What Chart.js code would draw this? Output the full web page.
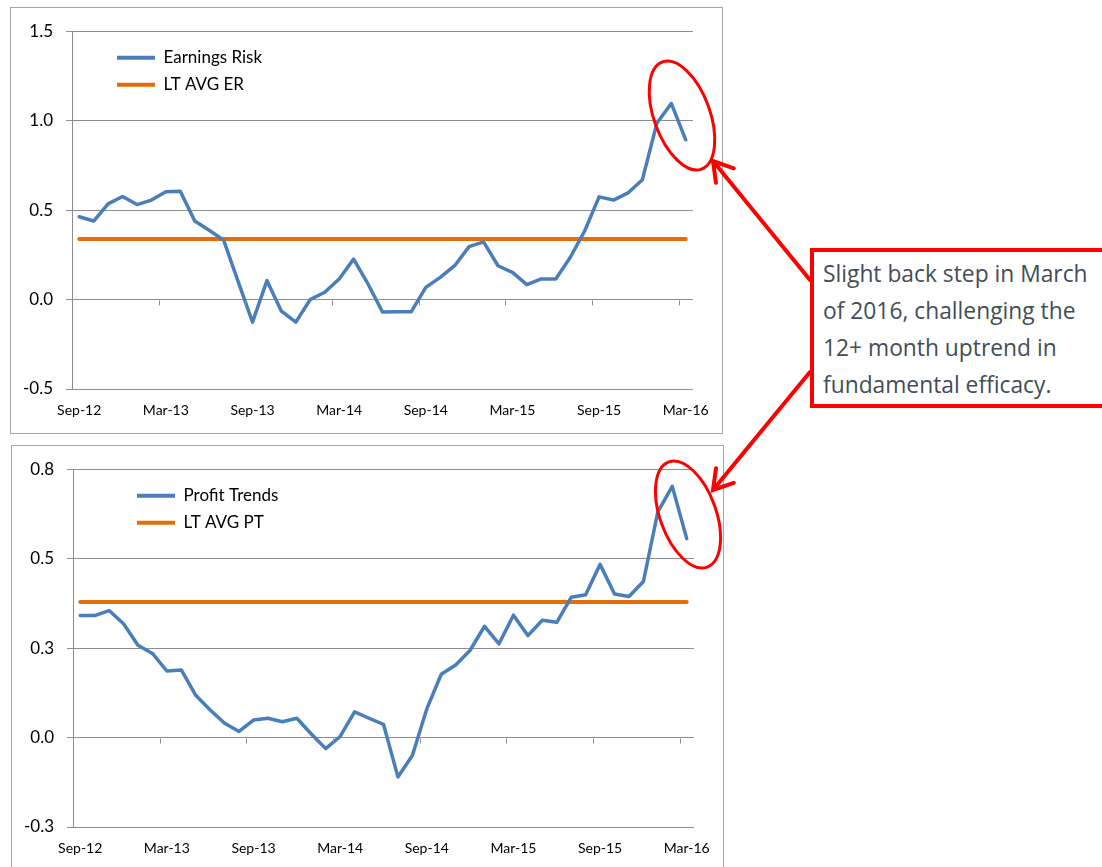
<!DOCTYPE html>
<html>
<head>
<meta charset="utf-8">
<script src="https://cdn.jsdelivr.net/npm/chart.js@4"></script>
<style>
  html, body { margin: 0; padding: 0; background: #fff; overflow: hidden; }
  body { width: 1102px; height: 867px; position: relative; }
  .frame { position: absolute; box-sizing: border-box; border: 1px solid #a6a6a6; background: #fff; }
  .frame canvas { position: absolute; left: 0; top: 0; }
  #frame-er { left: 10px; top: 7px; width: 713px; height: 427px; }
  #frame-pt { left: 11px; top: 445px; width: 713px; height: 427px; }
  #note {
    position: absolute; left: 810px; top: 248px; width: 320px; height: 160px;
    box-sizing: border-box; border: 4px solid #ff0000; background: #fff;
    padding: 3px 0 0 9px;
    font-family: "Open Sans", sans-serif; font-size: 22.8px; line-height: 37px;
    color: #434d57; white-space: nowrap;
  }
  #marks { position: absolute; left: 0; top: 0; pointer-events: none; }
</style>
</head>
<body>
<div class="frame" id="frame-er"><canvas id="chart-er" width="711" height="425"></canvas></div>
<div class="frame" id="frame-pt"><canvas id="chart-pt" width="711" height="425"></canvas></div>
<div id="note">Slight back step in March<br>of 2016, challenging the<br>12+ month uptrend in<br>fundamental efficacy.</div>
<svg id="marks" width="1102" height="867"></svg>
<script>
const months = [
  'Sep-12', 'Oct-12', 'Nov-12', 'Dec-12', 'Jan-13', 'Feb-13', 'Mar-13', 'Apr-13', 'May-13', 'Jun-13', 'Jul-13',
  'Aug-13', 'Sep-13', 'Oct-13', 'Nov-13', 'Dec-13', 'Jan-14', 'Feb-14', 'Mar-14', 'Apr-14', 'May-14', 'Jun-14',
  'Jul-14', 'Aug-14', 'Sep-14', 'Oct-14', 'Nov-14', 'Dec-14', 'Jan-15', 'Feb-15', 'Mar-15', 'Apr-15', 'May-15',
  'Jun-15', 'Jul-15', 'Aug-15', 'Sep-15', 'Oct-15', 'Nov-15', 'Dec-15', 'Jan-16', 'Feb-16', 'Mar-16',
];

const earningsRisk = [
  0.463, 0.439, 0.535, 0.576, 0.531, 0.556, 0.602, 0.606, 0.439, 0.387, 0.332,
  0.102, -0.126, 0.106, -0.065, -0.126, 0.000, 0.041, 0.115, 0.226, 0.087, -0.070,
  -0.068, -0.068, 0.068, 0.124, 0.189, 0.296, 0.322, 0.189, 0.152, 0.083, 0.115,
  0.115, 0.235, 0.383, 0.574, 0.556, 0.596, 0.670, 0.985, 1.096, 0.893,
];
const ltAvgER = 0.339;

const profitTrends = [
  0.341, 0.341, 0.355, 0.318, 0.258, 0.235, 0.186, 0.189, 0.118, 0.077, 0.040,
  0.017, 0.049, 0.054, 0.044, 0.054, 0.010, -0.031, 0.003, 0.072, 0.054, 0.037,
  -0.110, -0.050, 0.080, 0.177, 0.203, 0.244, 0.311, 0.262, 0.342, 0.285, 0.328,
  0.322, 0.392, 0.399, 0.484, 0.401, 0.394, 0.436, 0.631, 0.702, 0.556,
];
const ltAvgPT = 0.379;

const erTicks = { min: -0.5, max: 1.5, step: 0.5 };
const ptTicks = { min: -0.25, max: 0.75, step: 0.25 };

const BLUE = '#4a7ebb';
const ORANGE = '#e46c0a';
const GRID = '#8c8c8c';

Chart.defaults.font.family = 'Lato, sans-serif';
Chart.defaults.color = '#000';

// legend sits inside the plot, top-left, like the Excel original
const legendShift = {
  id: 'legendShift',
  afterLayout(chart, args, opts) {
    const lg = chart.legend;
    if (!lg) return;
    const ca = chart.chartArea;
    const w = lg.width, h = lg.height;
    lg.left = ca.left + opts.dx;
    lg.top = ca.top + opts.dy;
    lg.right = lg.left + w;
    lg.bottom = lg.top + h;
  },
};

// small tick marks on the zero line, every 6th category boundary
const zeroTicks = {
  id: 'zeroTicks',
  afterDraw(chart) {
    const x = chart.scales.x, y = chart.scales.y;
    const ctx = chart.ctx;
    const half = (x.getPixelForValue(1) - x.getPixelForValue(0)) / 2;
    const y0 = Math.round(y.getPixelForValue(0)) + 0.5;
    ctx.save();
    ctx.strokeStyle = GRID;
    ctx.lineWidth = 1;
    ctx.beginPath();
    for (let i = 6; i < months.length; i += 6) {
      const px = Math.round(x.getPixelForValue(i) - half) + 0.5;
      ctx.moveTo(px, y0);
      ctx.lineTo(px, y0 + 5);
    }
    ctx.stroke();
    ctx.restore();
  },
};

function makeChart(id, seriesLabel, values, avgLabel, avg, ticks, dx) {
  return new Chart(document.getElementById(id), {
    type: 'line',
    data: {
      labels: months,
      datasets: [
        {
          label: seriesLabel,
          data: values,
          borderColor: BLUE,
          backgroundColor: BLUE,
          borderWidth: 3.5,
          pointRadius: 0,
          tension: 0,
          borderJoinStyle: 'round',
          borderCapStyle: 'round',
        },
        {
          label: avgLabel,
          data: months.map(() => avg),
          borderColor: ORANGE,
          backgroundColor: ORANGE,
          borderWidth: 4,
          pointRadius: 0,
          borderCapStyle: 'round',
        },
      ],
    },
    options: {
      responsive: false,
      animation: false,
      events: [],
      layout: { padding: { top: 21, right: 24, left: 0, bottom: 0 } },
      scales: {
        x: {
          type: 'category',
          offset: true,
          grid: { display: false, drawTicks: false },
          border: { display: false },
          afterFit: s => { s.height = 44; },
          ticks: {
            autoSkip: false,
            maxRotation: 0,
            padding: 13,
            font: { size: 14 },
            callback(v, i) { return i % 6 === 0 ? this.getLabelForValue(v) : ''; },
          },
        },
        y: {
          min: ticks.min,
          max: ticks.max,
          afterFit: s => { s.width = 61; },
          grid: { color: GRID, tickLength: 6, tickColor: GRID },
          border: { display: true, color: GRID },
          ticks: {
            stepSize: ticks.step,
            padding: 13,
            font: { size: 17 },
            callback: v => Number(v).toFixed(1),
          },
        },
      },
      plugins: {
        legend: {
          position: 'chartArea',
          align: 'start',
          labels: {
            boxWidth: 38,
            boxHeight: 4,
            padding: 10,
            color: '#000',
            font: { size: 17 },
            generateLabels: chart =>
              Chart.defaults.plugins.legend.labels.generateLabels(chart).map(l => ({
                ...l, fillStyle: l.strokeStyle, lineWidth: 0,
              })),
          },
        },
        legendShift: { dx: dx, dy: 8 },
        tooltip: { enabled: false },
      },
    },
    plugins: [legendShift, zeroTicks],
  });
}

makeChart('chart-er', 'Earnings Risk', earningsRisk, 'LT AVG ER', ltAvgER, erTicks, 35);
makeChart('chart-pt', 'Profit Trends', profitTrends, 'LT AVG PT', ltAvgPT, ptTicks, 54);

// red call-outs: ellipses round the last points and arrows from the note
const svg = document.getElementById('marks');
const NS = 'http://www.w3.org/2000/svg';
function el(tag, attrs) {
  const e = document.createElementNS(NS, tag);
  for (const k in attrs) e.setAttribute(k, attrs[k]);
  svg.appendChild(e);
  return e;
}
const ellipses = [
  { cx: 682, cy: 115.5, rx: 28, ry: 57 },
  { cx: 688, cy: 514.5, rx: 28, ry: 56 },
];
ellipses.forEach(o => el('ellipse', {
  cx: o.cx, cy: o.cy, rx: o.rx, ry: o.ry,
  transform: `rotate(-20 ${o.cx} ${o.cy})`,
  fill: 'none', stroke: '#ff0000', 'stroke-width': 3,
}));

function arrow(x1, y1, x2, y2) {
  const a = Math.atan2(y2 - y1, x2 - x1);
  const len = 22, spread = 0.55;
  const p1 = [x2 - len * Math.cos(a - spread), y2 - len * Math.sin(a - spread)];
  const p2 = [x2 - len * Math.cos(a + spread), y2 - len * Math.sin(a + spread)];
  el('path', {
    d: `M${x1},${y1} L${x2},${y2} M${p1[0]},${p1[1]} L${x2},${y2} L${p2[0]},${p2[1]}`,
    fill: 'none', stroke: '#ff0000', 'stroke-width': 4,
    'stroke-linecap': 'round', 'stroke-linejoin': 'miter',
  });
}
arrow(810, 280, 713, 161);
arrow(810, 372, 713, 490);
</script>
</body>
</html>
